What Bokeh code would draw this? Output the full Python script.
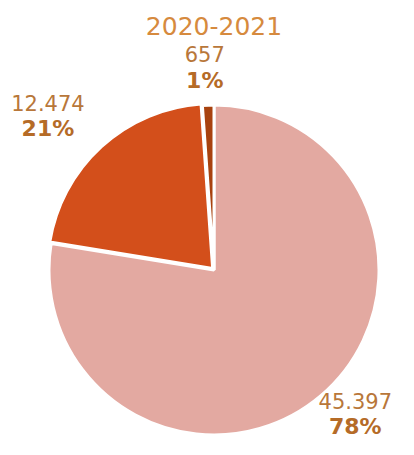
import math
from bokeh.plotting import figure
from bokeh.models import ColumnDataSource, Range1d, Label
from bokeh.core.properties import value
from bokeh.embed import file_html
from bokeh.resources import INLINE

title_text = "2020-2021"
categories = ["A", "B", "C"]
values = [45397, 12474, 657]
value_labels = ["45.397", "12.474", "657"]
colors = ["#E3A9A1", "#D34F1B", "#A8420F"]

R = 165.0
explode = [0, 2, 0]
label_gap = 20
label_nudge = [(-10, 18), (-8, -3), (-2, -2)]
label_box = [(74, 42), (73, 41), (40, 40)]

total = sum(values)
pcts = [f"{round(v / total * 100)}%" for v in values]

starts, ends, xs, ys, mids = [], [], [], [], []
cum = 0.0
for v, e in zip(values, explode):
    a0 = math.pi / 2 - 2 * math.pi * cum / total
    cum += v
    a1 = math.pi / 2 - 2 * math.pi * cum / total
    mid = (a0 + a1) / 2
    starts.append(a0)
    ends.append(a1)
    mids.append(mid)
    xs.append(e * math.cos(mid))
    ys.append(e * math.sin(mid))

src = ColumnDataSource(dict(x=xs, y=ys, start=starts, end=ends, color=colors))

p = figure(width=398, height=439, output_backend="svg", toolbar_location=None,
           x_range=Range1d(-213.5, 184.5), y_range=Range1d(-169.5, 269.5),
           x_axis_location=None, y_axis_location=None, min_border=0,
           background_fill_color="white", border_fill_color="white")
p.outline_line_color = None
p.xgrid.visible = False
p.ygrid.visible = False

p.wedge(x="x", y="y", radius=R, start_angle="start", end_angle="end",
        direction="clock", fill_color="color", line_color="white", line_width=3,
        source=src)

lx, ly_num, ly_pct = [], [], []
for mid, (w, h), (nx, ny) in zip(mids, label_box, label_nudge):
    c, s = math.cos(mid), math.sin(mid)
    m = max(abs(c), abs(s))
    px = (R + label_gap) * c + w / 2 * c / m + nx
    py = (R + label_gap) * s + h / 2 * s / m + ny
    lx.append(px)
    ly_num.append(py + 13)
    ly_pct.append(py - 13)

lsrc = ColumnDataSource(dict(x=lx, yn=ly_num, yp=ly_pct, num=value_labels, pct=pcts))
p.text(x="x", y="yn", text="num", source=lsrc, text_align="center",
       text_baseline="middle", text_font=value("DejaVu Sans"), text_font_size="21px",
       text_color="#B8773A")
p.text(x="x", y="yp", text="pct", source=lsrc, text_align="center",
       text_baseline="middle", text_font=value("DejaVu Sans"), text_font_size="22px",
       text_font_style="bold", text_color="#B56B27")

p.add_layout(Label(x=0, y=R + 79, text=title_text, text_align="center",
                   text_baseline="middle", text_font="DejaVu Sans",
                   text_font_size="25px", text_color="#D68A3E"))

open("out.html", "w").write(file_html(p, INLINE))
